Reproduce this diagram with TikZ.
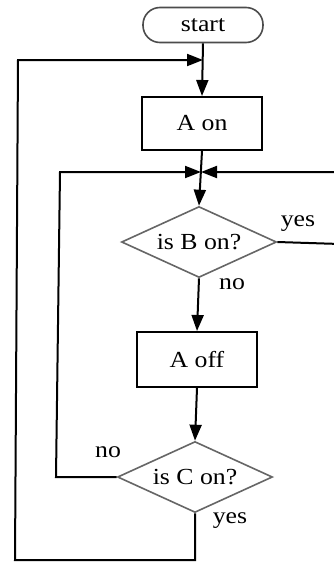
\documentclass[tikz,border=0pt]{standalone}
\usepackage{fontspec}
\setmainfont{Liberation Serif}[FakeStretch=1.12]
\usetikzlibrary{shapes.geometric,arrows.meta}
\begin{document}
\begin{tikzpicture}[x=1pt,y=-1pt,
  line width=2pt,
  font=\fontsize{23}{27}\selectfont,
  tip/.style={-{Triangle[length=16pt,width=12pt]}},
  procbox/.style={draw=black,rectangle,minimum width=120pt,inner sep=0pt},
  termbox/.style={draw=black!70,rectangle,rounded corners=17pt,minimum width=120pt,minimum height=35pt,inner sep=0pt,line width=1.6pt},
  decbox/.style={draw=black!60,diamond,aspect=2.18,minimum width=155pt,minimum height=71pt,inner sep=0pt,line width=1.6pt},
  lbl/.style={inner sep=0pt}]
\useasboundingbox (0,0) rectangle (334,570);
\fill[white] (0,0) rectangle (334,570);

\node[termbox] (start) at (203,25) {start};
\node[procbox,minimum height=53pt] (aon) at (202,123.5) {A on};
\node[decbox] (bdec) at (199,242) {is B on?};
\node[procbox,minimum height=55pt] (aoff) at (197,359.5) {A off};
\node[decbox] (cdec) at (195,477) {is C on?};

\coordinate (j1) at (203,60);
\coordinate (j2) at (201,172);
\coordinate (ol) at (18,60);
\coordinate (ob) at (15,560);
\coordinate (cb) at (195,560);
\coordinate (il) at (60,172);
\coordinate (ilb) at (56,477);
\coordinate (rt) at (340,172);
\coordinate (rb) at (340,244);

\draw[tip] (start.south) -- (aon.north);
\draw[tip] (aon.south) -- (bdec.north);
\draw[tip] (bdec.south) -- (aoff.north);
\draw[tip] (aoff.south) -- (cdec.north);

\draw[tip] (cdec.south) -- (cb) -- (ob) -- (ol) -- (j1);
\draw[tip] (cdec.west) -- (ilb) -- (il) -- (j2);
\draw[tip] (bdec.east) -- (rb) -- (rt) -- (j2);

\node[lbl] (byes) at (298,224) {yes};
\node[lbl] (bno) at (232,284) {no};
\node[lbl] (cno) at (108,452) {no};
\node[lbl] (cyes) at (230,521) {yes};
\end{tikzpicture}
\end{document}
